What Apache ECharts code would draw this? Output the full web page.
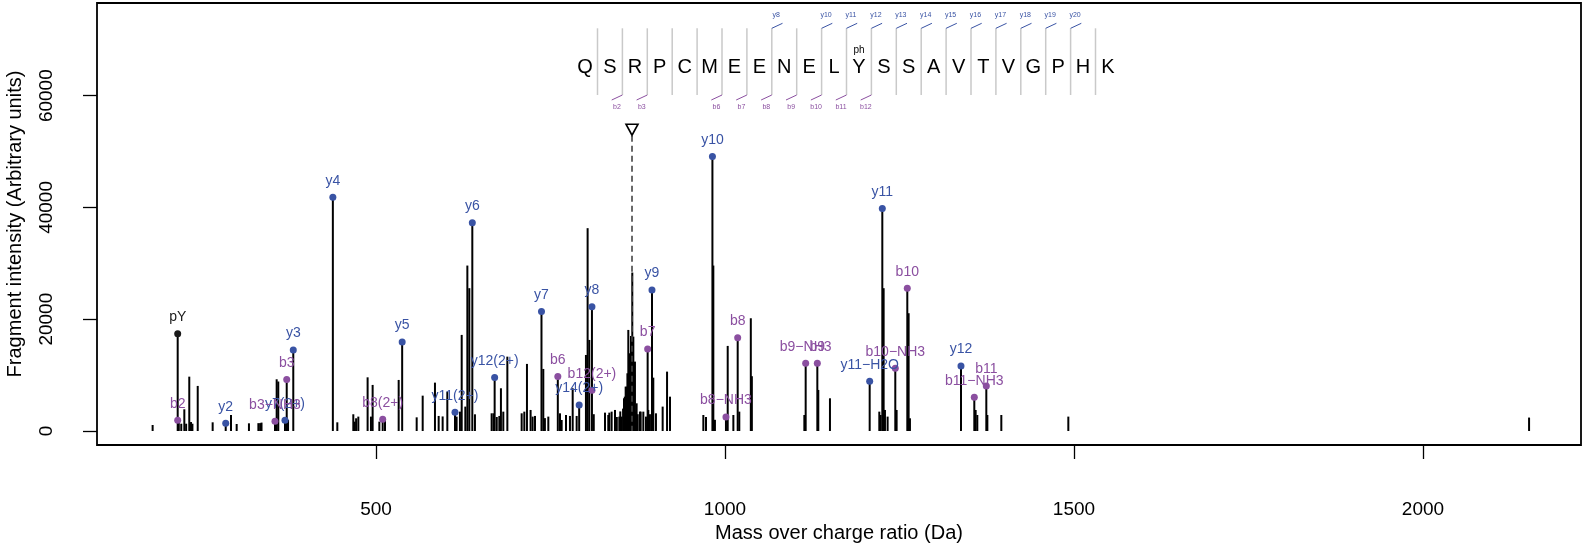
<!DOCTYPE html>
<html><head><meta charset="utf-8">
<script src="https://cdn.jsdelivr.net/npm/echarts@6/dist/echarts.min.js"></script>
<style>html,body{margin:0;padding:0;background:#fff}#c{width:1596px;height:550px}</style>
</head><body><div id="c"></div>
<script>
// ---------- data ----------
const peakMz = [180, 215.9, 217.5, 221, 225.4, 228, 232.5, 235, 237, 244.6, 266, 284.7, 292.3, 300.4, 318, 331.5, 334, 336, 355.3, 357.7, 360, 369.6, 372.1, 374, 381.5, 438.2, 444.6, 467.5, 469.5, 471.5, 474.7, 488, 492.8, 495.2, 504.8, 509.6, 512.9, 532.5, 537.5, 558.3, 566.9, 584.5, 589.8, 595.5, 602.2, 613.2, 615.5, 620.3, 622.8, 628, 630.9, 633.7, 638, 641.8, 665.7, 668.5, 670, 673, 676.7, 679, 682.4, 688.2, 708.7, 712.5, 716.3, 721.5, 724.4, 727.8, 737.1, 739.7, 742, 746.9, 760.5, 763.6, 766, 772.2, 777.9, 781.8, 787.5, 791.1, 800.8, 803.2, 805.6, 809.4, 812, 828.1, 832.8, 834.3, 837.6, 842.4, 845, 848.6, 850, 852, 854, 855.3, 856.5, 857.7, 859.2, 860.2, 861.5, 862.5, 863.9, 865.3, 866.2, 867.2, 868.7, 870, 871, 872.5, 873.4, 875, 878.2, 879.2, 883, 886.8, 889.2, 890.1, 892.5, 895.4, 897.3, 901.1, 910.7, 917, 921.2, 969, 972.8, 982, 983.3, 985.6, 1001.4, 1003.9, 1012, 1018.2, 1020.5, 1037, 1038.5, 1113.7, 1115.6, 1132.3, 1133.7, 1150.4, 1207.3, 1221.1, 1223, 1225.4, 1227.3, 1229.2, 1233, 1244, 1245.9, 1261.2, 1263.1, 1265, 1338.1, 1357.2, 1359.1, 1361.5, 1374.4, 1375.9, 1395.9, 1491.9, 2152];
const peakIntensity = [1070, 17400, 2300, 1300, 3880, 1300, 9720, 1600, 1300, 8060, 1550, 1360, 2860, 1250, 1370, 1400, 1400, 1500, 1720, 9250, 8850, 1900, 9190, 2000, 14470, 41800, 1550, 2990, 1670, 2270, 2570, 9600, 2570, 8240, 1670, 2080, 2270, 9130, 15940, 2440, 6320, 8650, 2690, 2600, 7040, 3350, 2570, 3460, 17190, 4360, 29600, 25550, 37260, 2980, 3160, 3160, 9560, 2500, 2690, 7640, 3460, 13300, 3160, 3460, 12000, 3760, 2570, 2690, 21400, 11100, 2300, 2570, 9740, 3160, 1970, 2860, 2690, 7640, 2690, 4640, 13600, 36290, 16290, 22250, 3000, 3280, 2860, 3280, 3460, 3760, 2500, 2570, 3500, 2570, 4000, 5850, 6140, 7940, 7930, 10320, 18080, 12700, 13900, 17000, 16880, 28350, 16880, 10000, 12410, 3460, 4950, 3000, 3460, 3460, 3460, 2570, 14680, 3760, 3000, 25240, 9540, 3160, 4360, 10620, 6140, 2860, 2500, 49100, 29600, 2000, 2500, 15220, 2860, 16700, 3460, 20170, 9800, 2860, 12120, 12120, 7340, 5850, 8890, 3460, 2860, 39800, 25550, 3760, 2570, 11220, 3760, 25550, 21070, 2270, 11640, 6030, 3760, 2860, 8060, 2860, 2860, 2570, 2400];

const yIonLabels = ['y2', 'y7(2+)', 'y3', 'y4', 'y5', 'y11(2+)', 'y6', 'y12(2+)', 'y7', 'y14(2+)', 'y8', 'y9', 'y10', 'y11\u2212H2O', 'y11', 'y12'];
const yIonMz = [284.7, 369.6, 381.5, 438.2, 537.5, 613.2, 638, 670, 737.1, 791.1, 809.4, 895.4, 982, 1207.3, 1225.4, 1338.1];
const yIonIntensity = [1360, 1900, 14470, 41800, 15940, 3350, 37260, 9560, 21400, 4640, 22250, 25240, 49100, 8890, 39800, 11640];

const bIonLabels = ['b2', 'b3\u2212NH3', 'b3', 'b8(2+)', 'b6', 'b12(2+)', 'b7', 'b8\u2212NH3', 'b8', 'b9\u2212NH3', 'b9', 'b10\u2212NH3', 'b10', 'b11\u2212NH3', 'b11'];
const bIonMz = [215.9, 355.3, 372.1, 509.6, 760.5, 809.4, 889.2, 1001.4, 1018.2, 1115.6, 1132.3, 1244, 1261.2, 1357.2, 1374.4];
const bIonIntensity = [1900, 1720, 9190, 2080, 9740, 7290, 14680, 2500, 16700, 12120, 12120, 11220, 25550, 6030, 8060];

const otherIonLabels = ['pY'];
const otherIonMz = [215.9];
const otherIonIntensity = [17400];

const precursorMz = 866.8;
const precursorMarkLevel = 53900;

const sequence = ['Q','S','R','P','C','M','E','E','N','E','L','Y','S','S','A','V','T','V','G','P','H','K'];
const modSiteIndex = [11];
const modSiteLabels = ['ph'];
const yTickLines = [7, 9, 10, 11, 12, 13, 14, 15, 16, 17, 18, 19];
const yTickLabels = ['y8', 'y10', 'y11', 'y12', 'y13', 'y14', 'y15', 'y16', 'y17', 'y18', 'y19', 'y20'];
const bTickLines = [1, 2, 5, 6, 7, 8, 9, 10, 11];
const bTickLabels = ['b2', 'b3', 'b6', 'b7', 'b8', 'b9', 'b10', 'b11', 'b12'];

const xTicks = [500, 1000, 1500, 2000];
const yTicks = [0, 20000, 40000, 60000];

// ---------- style ----------
const FONT = '"Liberation Sans", Arial, Helvetica, sans-serif';
const BLUE = '#3953a4';
const PURPLE = '#8b4fa0';

const chart = echarts.init(document.getElementById('c'), null, {renderer: 'canvas'});

function stemItem(params, api) {
  const a = api.coord([api.value(0), 0]);
  const b = api.coord([api.value(0), api.value(1)]);
  return {type: 'line', shape: {x1: a[0], y1: a[1], x2: b[0], y2: b[1]},
          style: {stroke: '#000', lineWidth: 2}};
}

function precursorItem(params, api) {
  const c = api.coord([api.value(0), api.value(1)]);
  const base = api.coord([api.value(0), 0]);
  return {type: 'group', children: [
    {type: 'line', shape: {x1: c[0], y1: c[1] + 6, x2: base[0], y2: base[1]},
     style: {stroke: '#444', lineWidth: 1.6, lineDash: [6, 4]}},
    {type: 'polygon', shape: {points: [[c[0] - 6, c[1] - 5.5], [c[0] + 6, c[1] - 5.5], [c[0], c[1] + 5.5]]},
     style: {stroke: '#000', fill: '#fff', lineWidth: 1.6}}
  ]};
}

function sequenceItem(params, api) {
  if (params.dataIndex > 0) return null;
  const ch = [];
  for (let k = 1; k < sequence.length; k++) {
    const p1 = api.coord([k, 28.3]), p2 = api.coord([k, 95]);
    ch.push({type: 'line', shape: {x1: p1[0], y1: p1[1], x2: p2[0], y2: p2[1]},
             style: {stroke: '#c9c9c9', lineWidth: 1.5}});
  }
  sequence.forEach((s, i) => {
    const p = api.coord([i + 0.5, 67.5]);
    ch.push({type: 'text', style: {x: p[0], y: p[1], text: s, fill: '#000',
             font: '20px ' + FONT, align: 'center', verticalAlign: 'middle'}});
  });
  modSiteIndex.forEach((idx, j) => {
    const p = api.coord([idx + 0.5, 50]);
    ch.push({type: 'text', style: {x: p[0], y: p[1], text: modSiteLabels[j], fill: '#000',
             font: '10px ' + FONT, align: 'center', verticalAlign: 'middle'}});
  });
  yTickLines.forEach((k, j) => {
    const p = api.coord([k + 1, 28.3]);
    ch.push({type: 'line', shape: {x1: p[0], y1: p[1], x2: p[0] + 10.7, y2: p[1] - 5},
             style: {stroke: BLUE, lineWidth: 1}});
    const q = api.coord([k + 1, 15]);
    ch.push({type: 'text', style: {x: q[0] + 4.5, y: q[1], text: yTickLabels[j], fill: BLUE,
             font: '7px ' + FONT, align: 'center', verticalAlign: 'middle'}});
  });
  bTickLines.forEach((k, j) => {
    const p = api.coord([k + 1, 95]);
    ch.push({type: 'line', shape: {x1: p[0], y1: p[1], x2: p[0] - 10.7, y2: p[1] + 5},
             style: {stroke: PURPLE, lineWidth: 1}});
    const q = api.coord([k + 1, 107]);
    ch.push({type: 'text', style: {x: q[0] - 5.5, y: q[1], text: bTickLabels[j], fill: PURPLE,
             font: '7px ' + FONT, align: 'center', verticalAlign: 'middle'}});
  });
  return {type: 'group', children: ch};
}

function ionSeries(labels, mz, inten, color) {
  return {
    type: 'scatter', xAxisIndex: 0, yAxisIndex: 0, symbol: 'circle', symbolSize: 7,
    data: mz.map((m, i) => [m, inten[i], labels[i]]),
    itemStyle: {color: color, opacity: 1},
    label: {show: true, position: 'top', distance: 6, formatter: p => p.data[2],
            color: color, fontSize: 14, fontFamily: FONT},
    emphasis: {disabled: true}, z: 5
  };
}

const tickText = {color: '#000', fontSize: 19, fontFamily: FONT};
const titleText = {color: '#000', fontSize: 20, fontFamily: FONT};

chart.setOption({
  animation: false,
  backgroundColor: '#fff',
  grid: [
    {left: 97, right: 15, top: 3, bottom: 105, show: true, borderColor: '#000', borderWidth: 1.8,
     backgroundColor: 'transparent', containLabel: false, outerBoundsMode: 'none'},
    {left: 572.6, top: 0, width: 547.8, height: 130, show: false, outerBoundsMode: 'none'}
  ],
  xAxis: [
    {type: 'value', gridIndex: 0, min: 100.3, max: 2226.4,
     axisLine: {show: false, onZero: false}, splitLine: {show: false},
     axisTick: {show: true, inside: false, length: 14, customValues: xTicks, lineStyle: {color: '#000', width: 1.3}},
     axisLabel: Object.assign({show: true, margin: 55, customValues: xTicks, formatter: v => String(v)}, tickText),
     name: 'Mass over charge ratio (Da)', nameLocation: 'middle', nameGap: 78, nameTextStyle: titleText},
    {type: 'value', gridIndex: 1, min: 0, max: 22, show: false}
  ],
  yAxis: [
    {type: 'value', gridIndex: 0, min: -2510, max: 76580,
     axisLine: {show: false, onZero: false}, splitLine: {show: false},
     axisTick: {show: true, inside: false, length: 14, customValues: yTicks, lineStyle: {color: '#000', width: 1.3}},
     axisLabel: Object.assign({show: true, margin: 41, rotate: 90, customValues: yTicks, formatter: v => String(v)}, tickText),
     name: 'Fragment intensity (Arbitrary units)', nameLocation: 'middle', nameGap: 72, nameRotate: 90, nameTextStyle: titleText},
    {type: 'value', gridIndex: 1, min: 0, max: 130, inverse: true, show: false}
  ],
  series: [
    {type: 'custom', xAxisIndex: 0, yAxisIndex: 0, renderItem: stemItem,
     data: peakMz.map((m, i) => [m, peakIntensity[i]]), z: 2, clip: true},
    {type: 'custom', xAxisIndex: 0, yAxisIndex: 0, renderItem: precursorItem,
     data: [[precursorMz, precursorMarkLevel]], z: 3},
    ionSeries(yIonLabels, yIonMz, yIonIntensity, BLUE),
    ionSeries(bIonLabels, bIonMz, bIonIntensity, PURPLE),
    ionSeries(otherIonLabels, otherIonMz, otherIonIntensity, '#1a1a1a'),
    {type: 'custom', xAxisIndex: 1, yAxisIndex: 1, renderItem: sequenceItem, data: [[0, 0]], z: 4}
  ]
});
</script></body></html>
